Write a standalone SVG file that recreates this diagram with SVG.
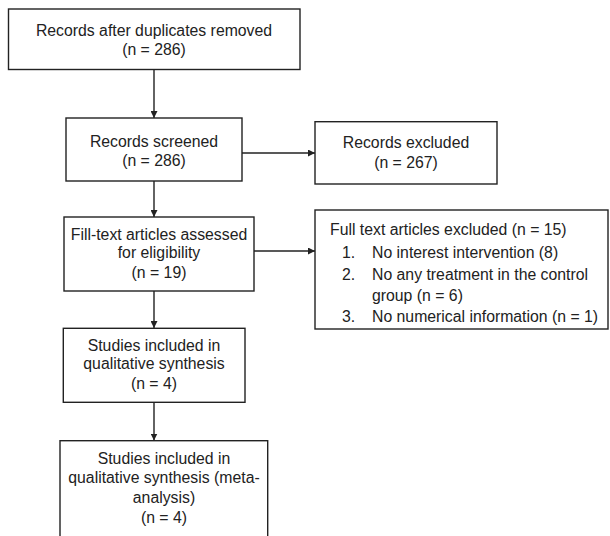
<svg xmlns="http://www.w3.org/2000/svg" width="610" height="536" viewBox="0 0 610 536">
<defs>
<style>
rect{fill:#fff;stroke:#222;stroke-width:1.4}
text{font-family:"Liberation Sans",Arial,sans-serif;font-size:15.8px;fill:#222}
.c{text-anchor:middle}
#connectors line{stroke:#222;stroke-width:1.4;marker-end:url(#ah)}
</style>
<marker id="ah" viewBox="0 0 10 10" refX="10" refY="5" markerWidth="7" markerHeight="7" markerUnits="userSpaceOnUse" orient="auto">
<path d="M0,0 L10,5 L0,10 z" fill="#222"/>
</marker>
</defs>
<rect x="0" y="0" width="610" height="536" style="fill:#fff;stroke:none"/>
<g id="connectors">
<line x1="154" y1="69.5" x2="154" y2="118"/>
<line x1="242" y1="153" x2="315" y2="153"/>
<line x1="154" y1="181" x2="154" y2="217"/>
<line x1="254" y1="251" x2="315" y2="251"/>
<line x1="154" y1="291" x2="154" y2="328"/>
<line x1="154" y1="402" x2="154" y2="440.5"/>
</g>
<g id="n1">
<rect x="8.5" y="9" width="291.5" height="60.5"/>
<text class="c" x="154" y="35.7">Records after duplicates removed</text>
<text class="c" x="154" y="54.5">(n = 286)</text>
</g>
<g id="n2">
<rect x="66" y="118" width="176" height="63"/>
<text class="c" x="154" y="146.7">Records screened</text>
<text class="c" x="154" y="165.7">(n = 286)</text>
</g>
<g id="n3">
<rect x="315" y="121.7" width="182" height="62.3"/>
<text class="c" x="406" y="148.3">Records excluded</text>
<text class="c" x="406" y="168.3">(n = 267)</text>
</g>
<g id="n4">
<rect x="315" y="210" width="293" height="119"/>
<text x="330" y="235">Full text articles excluded (n = 15)</text>
<text x="342" y="258">1.</text><text x="372" y="258">No interest intervention (8)</text>
<text x="342" y="280">2.</text><text x="372" y="280">No any treatment in the control</text>
<text x="372" y="301">group (n = 6)</text>
<text x="342" y="322">3.</text><text x="372" y="322">No numerical information (n = 1)</text>
</g>
<g id="n5">
<rect x="64" y="217" width="190" height="74"/>
<text class="c" x="159" y="240">Fill-text articles assessed</text>
<text class="c" x="159" y="258.3">for eligibility</text>
<text class="c" x="159" y="278.3">(n = 19)</text>
</g>
<g id="n6">
<rect x="63.3" y="328.3" width="181.7" height="74"/>
<text class="c" x="154" y="351">Studies included in</text>
<text class="c" x="154" y="369.3">qualitative synthesis</text>
<text class="c" x="154" y="389.3">(n = 4)</text>
</g>
<g id="n7">
<rect x="60" y="440.7" width="207.7" height="110"/>
<text class="c" x="164" y="464">Studies included in</text>
<text class="c" x="164" y="482.7">qualitative synthesis (meta-</text>
<text class="c" x="164" y="503.3">analysis)</text>
<text class="c" x="164" y="522.7">(n = 4)</text>
</g>
</svg>
